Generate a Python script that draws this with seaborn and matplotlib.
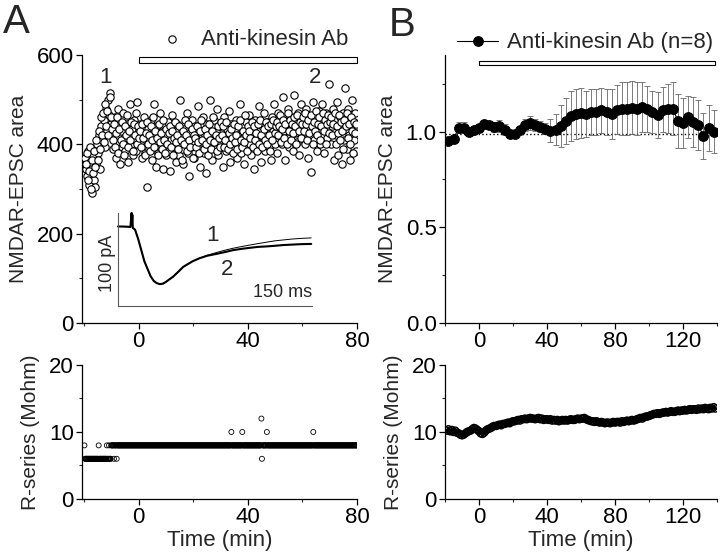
#!/usr/bin/python

import numpy as np
import seaborn as sns
import matplotlib
matplotlib.use('Agg')
import matplotlib.pyplot as plt
from matplotlib.patches import Rectangle
from matplotlib.ticker import MultipleLocator, FormatStrFormatter

####################################################################################################
# Data
####################################################################################################

# A, top: NMDAR-EPSC area of one cell, two interleaved sweeps every 0.4 min
area_a_time_1 = np.linspace(-19.6, 80.0, 250)
area_a_1 = [370, 345, 330, 385, 310, 360, 290, 375, 320, 305, 355, 400, 380, 420, 345, 440, 410, 455, 395, 480, 430, 500, 465, 515, 445,
            425, 390, 460, 370, 440, 480, 405, 355, 430, 395, 470, 415, 385, 445, 360, 420, 490, 400, 435, 375, 455, 410, 385, 495, 430,
            445, 400, 370, 420, 460, 380, 410, 305, 435, 390, 455, 365, 425, 490, 400, 350, 440, 380, 415, 470, 395, 345, 430, 405, 375,
            420, 450, 385, 340, 410, 465, 395, 430, 360, 445, 400, 375, 500, 420, 390, 355, 435, 410, 470, 380, 330, 425, 395, 455, 405,
            370, 440, 415, 485, 395, 350, 430, 405, 460, 380, 420, 335, 445, 400, 500, 425, 365, 410, 455, 390, 430, 480, 375, 415, 440,
            395, 350, 460, 420, 385, 435, 405, 475, 360, 445, 410, 390, 430, 455, 370, 420, 400, 490, 380, 440, 415, 355, 450, 395, 425,
            465, 400, 375, 435, 420, 345, 455, 410, 390, 485, 430, 360, 440, 405, 470, 385, 425, 450, 395, 415, 365, 460, 430, 490, 400,
            440, 380, 470, 420, 455, 400, 505, 430, 365, 445, 415, 480, 395, 460, 435, 385, 510, 425, 450, 405, 470, 375, 440, 490, 420,
            455, 400, 480, 435, 370, 460, 420, 338, 445, 495, 410, 465, 385, 430, 475, 400, 455, 490, 420, 380, 445, 470, 415, 535, 460,
            400, 440, 480, 365, 455, 420, 495, 375, 460, 430, 355, 470, 410, 525, 445, 390, 480, 420, 365, 500, 450, 410, 470, 385, 440]
area_a_time_2 = np.linspace(-19.4, 79.8, 249)
area_a_2 = [355, 380, 320, 340, 395, 300, 365, 335, 385, 350, 410, 365, 430, 390, 460, 420, 470, 405, 490, 440, 475, 420, 505, 460, 435,
            410, 445, 395, 425, 460, 380, 435, 410, 450, 400, 375, 440, 420, 465, 395, 430, 410, 450, 385, 445, 420, 470, 400, 440, 415,
            430, 395, 445, 415, 375, 425, 450, 400, 420, 385, 440, 410, 460, 395, 430, 415, 375, 445, 405, 425, 390, 455, 410, 380, 435,
            400, 425, 440, 395, 430, 375, 415, 450, 405, 420, 390, 440, 410, 365, 430, 400, 455, 420, 385, 445, 410, 395, 435, 370, 420,
            415, 395, 440, 405, 380, 430, 455, 410, 390, 435, 400, 420, 375, 445, 410, 390, 430, 460, 405, 420, 385, 440, 415, 395, 450,
            420, 440, 395, 410, 450, 390, 425, 400, 435, 415, 380, 445, 405, 420, 390, 440, 455, 410, 395, 430, 405, 465, 420, 385, 440,
            430, 415, 450, 395, 440, 410, 425, 385, 445, 400, 455, 420, 395, 435, 410, 450, 400, 440, 420, 385, 445, 410, 455, 425, 440,
            450, 420, 440, 465, 405, 435, 455, 415, 445, 400, 470, 430, 455, 410, 445, 425, 460, 440, 400, 465, 430, 450, 415, 445, 460,
            430, 470, 445, 410, 455, 425, 465, 440, 400, 450, 430, 475, 420, 445, 460, 410, 440, 470, 430, 455, 400, 445, 465, 425, 450,
            460, 420, 445, 470, 400, 440, 425, 465, 410, 450, 430, 390, 455, 440, 470, 415, 445, 400, 460, 430, 380, 450, 425, 445]

# A, bottom: series resistance, one sample every 0.2 min (-19.8 .. 80 min), run-length coded
rs_a_time = np.linspace(-19.8, 80.0, 500)
rs_a_levels = [8, 6, 8, 6, 8, 6, 8, 6, 8, 6, 8, 6, 8, 10, 8, 10, 8, 12, 6, 8, 10, 8, 10, 8]
rs_a_counts = [1, 25, 1, 14, 1, 3, 1, 3, 5, 1, 4, 1, 209, 1, 19, 1, 34, 1, 1, 8, 1, 84, 1, 80]

# A, inset: averaged EPSC traces (ms, pA)
trace_common_t = [0, 10, 16, 17, 17.5, 18, 18.5, 19, 22, 26, 30, 34, 38, 42, 46, 50, 54, 58, 62, 66, 71, 78, 84, 90, 96, 105]
trace_common_i = [-14.5, -14.7, -15, -5, 0, -10, -2, -16, -18, -28, -40, -52, -60, -68, -73, -75.5, -76.5, -76, -74, -71.5,
                  -68.5, -63, -58, -55, -52, -48.7]
trace_late_t = [115, 127, 138, 148, 160, 170, 180, 191, 202, 213, 225, 237, 249]
trace1_late_i = [-45.5, -42.5, -40, -38, -36, -34.5, -33, -31.5, -30, -29, -28, -27.3, -26.8]
trace2_late_i = [-46, -44, -42, -40, -38.5, -37.5, -36.5, -36, -35.3, -34.5, -34, -33.5, -33.3]

# B, top: normalised NMDAR-EPSC area, mean and s.e.m. every 3 min (-18 .. 138 min)
norm_time = np.arange(-18, 139, 3)
norm_mean = [0.95, 0.96, 1.02, 1.02, 1.00, 1.01,
             1.02, 1.04, 1.035, 1.025, 1.03, 1.01, 0.985, 0.985, 1.01, 1.035, 1.045, 1.035, 1.025, 1.015,
             1.005, 1.01, 1.03, 1.055, 1.08, 1.09, 1.095, 1.09, 1.10, 1.10, 1.11, 1.10, 1.09, 1.115, 1.12,
             1.12, 1.125, 1.12, 1.13, 1.12, 1.10, 1.085, 1.115, 1.12, 1.12, 1.055, 1.045, 1.075, 1.05, 1.035,
             0.975, 1.02, 1.00]
norm_sem = [0.015, 0.015, 0.03, 0.03, 0.015, 0.015,
            0.015, 0.02, 0.02, 0.025, 0.03, 0.03, 0.02, 0.02, 0.02, 0.03, 0.035, 0.03, 0.03, 0.03,
            0.06, 0.08, 0.11, 0.12, 0.13, 0.13, 0.13, 0.12, 0.12, 0.12, 0.12, 0.12, 0.13, 0.13, 0.14,
            0.14, 0.14, 0.14, 0.13, 0.12, 0.11, 0.12, 0.12, 0.13, 0.14, 0.14, 0.13, 0.11, 0.13, 0.13,
            0.12, 0.12, 0.11]

# B, bottom: mean series resistance, every 1 min (-19 .. 139 min)
rs_b_time = np.arange(-19, 140, 1)
rs_b = [10.2, 10.4, 10.1, 10.3, 10.0, 10.2, 9.9, 9.8, 9.6, 9.5,
        9.6, 9.8, 10.0, 10.1, 10.2, 10.4, 10.6, 10.5, 10.3, 10.1,
        9.8, 9.7, 9.9, 10.2, 10.4, 10.5, 10.6, 10.8, 10.9, 10.9,
        11.0, 11.1, 11.0, 11.2, 11.2, 11.3, 11.4, 11.3, 11.5, 11.6,
        11.6, 11.7, 11.8, 11.7, 11.9, 11.9, 12.0, 11.9, 12.0, 12.1,
        12.0, 12.0, 11.9, 12.0, 12.1, 11.9, 12.0, 11.8, 11.9, 11.9,
        11.8, 11.9, 11.7, 11.8, 11.7, 11.8, 11.6, 11.7, 11.8, 11.7,
        11.8, 11.7, 11.8, 11.9, 11.8, 11.8, 11.9, 12.0, 11.9, 12.0,
        12.0, 12.1, 11.9, 11.8, 11.7, 11.6, 11.6, 11.5, 11.6, 11.5,
        11.4, 11.5, 11.4, 11.3, 11.4, 11.4, 11.3, 11.4, 11.5, 11.4,
        11.5, 11.5, 11.4, 11.6, 11.5, 11.6, 11.7, 11.6, 11.7, 11.8,
        11.7, 11.8, 11.9, 12.0, 12.1, 12.0, 12.2, 12.3, 12.3, 12.4,
        12.5, 12.6, 12.7, 12.7, 12.8, 12.7, 12.8, 12.9, 12.9, 13.0,
        12.9, 13.0, 13.1, 13.0, 13.0, 13.1, 13.2, 13.1, 13.2, 13.2,
        13.3, 13.2, 13.3, 13.4, 13.3, 13.4, 13.4, 13.3, 13.5, 13.4,
        13.5, 13.4, 13.6, 13.5, 13.4, 13.6, 13.5, 13.7, 13.5]

LEGEND_TEXT = 'Anti-kinesin Ab'
FONT_SIZE = 16


####################################################################################################
# @style_axis
####################################################################################################
def style_axis(ax, xlim, ylim, xmajor, xminor, ymajor, yminor, yfmt=None):

    ax.set_xlim(*xlim)
    ax.set_ylim(*ylim)
    ax.xaxis.set_major_locator(MultipleLocator(xmajor))
    ax.xaxis.set_minor_locator(MultipleLocator(xminor))
    ax.yaxis.set_major_locator(MultipleLocator(ymajor))
    ax.yaxis.set_minor_locator(MultipleLocator(yminor))
    if yfmt is not None:
        ax.yaxis.set_major_formatter(FormatStrFormatter(yfmt))
    sns.despine(ax=ax)
    for side in ['left', 'bottom']:
        ax.spines[side].set_linewidth(0.9)
        ax.spines[side].set_color('black')
    ax.tick_params(which='both', bottom=True, left=True, top=False, right=False)
    ax.tick_params(which='major', direction='out', length=4, width=0.9, pad=2,
                   labelsize=FONT_SIZE, colors='black')
    ax.tick_params(which='minor', direction='out', length=2.5, width=0.8)
    ax.set_xlabel('')
    ax.set_ylabel('')


####################################################################################################
# @ Main
####################################################################################################
if __name__ == "__main__":

    sns.set_theme(style='ticks')
    plt.rcParams['font.family'] = ['Liberation Sans', 'DejaVu Sans']
    plt.rcParams['axes.grid'] = False

    fig = plt.figure(figsize=(7.2, 5.54), dpi=100)

    ax_a = fig.add_axes([0.1139, 0.4170, 0.3819, 0.4838])
    ax_a_rs = fig.add_axes([0.1139, 0.0993, 0.3819, 0.2419])
    ax_b = fig.add_axes([0.6181, 0.4170, 0.3778, 0.4838])
    ax_b_rs = fig.add_axes([0.6181, 0.0993, 0.3778, 0.2419])
    ax_in = fig.add_axes([0.1639, 0.4477, 0.2694, 0.1679])

    # ---------------- Panel A, EPSC area ----------------
    sns.scatterplot(x=area_a_time_1, y=area_a_1, ax=ax_a, s=28, facecolor='white',
                    edgecolor='black', linewidth=0.8, label=LEGEND_TEXT, zorder=3)
    sns.scatterplot(x=area_a_time_2, y=area_a_2, ax=ax_a, s=28, facecolor='white',
                    edgecolor='black', linewidth=0.8, zorder=3)
    style_axis(ax_a, (-20.7, 80), (0, 600), 40, 20, 200, 100)
    ax_a.set_ylabel('NMDAR-EPSC area', fontsize=15, labelpad=6)
    ax_a.add_patch(Rectangle((0, 581), 80, 14, facecolor='white', edgecolor='black',
                             linewidth=0.8, clip_on=False, zorder=4))
    ax_a.text(-12, 550, '1', fontsize=FONT_SIZE, ha='center', va='center', zorder=5)
    ax_a.text(64.7, 549, '2', fontsize=FONT_SIZE, ha='center', va='center', zorder=5)
    ax_a.legend(loc='center left', bbox_to_anchor=(0.2236, 0.9296), bbox_transform=fig.transFigure,
                frameon=False, borderpad=0, borderaxespad=0, handlelength=1.0, handletextpad=0.8,
                fontsize=FONT_SIZE)

    # ---------------- Panel A, inset traces ----------------
    sns.lineplot(x=trace_common_t + trace_late_t, y=trace_common_i + trace1_late_i, ax=ax_in,
                 color='black', linewidth=0.7, sort=False, estimator=None)
    sns.lineplot(x=trace_common_t + trace_late_t, y=trace_common_i + trace2_late_i, ax=ax_in,
                 color='black', linewidth=1.5, sort=False, estimator=None)
    ax_in.set_xlim(0, 250)
    ax_in.set_ylim(-100, 0)
    ax_in.patch.set_alpha(0)
    sns.despine(ax=ax_in)
    for side in ['left', 'bottom']:
        ax_in.spines[side].set_color('0.35')
        ax_in.spines[side].set_linewidth(0.8)
    ax_in.set_xticks([])
    ax_in.set_yticks([])
    for line in ax_in.lines:
        line.set_clip_on(False)
    ax_in.text(122, -24, '1', fontsize=FONT_SIZE, ha='center', va='center')
    ax_in.text(140, -61, '2', fontsize=FONT_SIZE, ha='center', va='center')
    ax_in.text(-13, -54, '100 pA', fontsize=13, rotation=90, ha='center', va='center')
    ax_in.text(212, -86, '150 ms', fontsize=13, ha='center', va='center')

    # ---------------- Panel A, R-series ----------------
    sns.scatterplot(x=rs_a_time, y=np.repeat(rs_a_levels, rs_a_counts), ax=ax_a_rs, s=13,
                    facecolor='none', edgecolor='black', linewidth=0.6)
    style_axis(ax_a_rs, (-20.7, 80), (0, 20), 40, 20, 10, 5)
    ax_a_rs.set_ylabel('R-series (Mohm)', fontsize=15, labelpad=6)
    ax_a_rs.set_xlabel('Time (min)', fontsize=FONT_SIZE, labelpad=1)

    # ---------------- Panel B, normalised area ----------------
    ax_b.axhline(0.985, color='black', linestyle=':', linewidth=1.0, zorder=1)
    ax_b.errorbar(norm_time, norm_mean, yerr=norm_sem, fmt='none', ecolor='0.4',
                  elinewidth=0.6, capsize=2, capthick=0.6, zorder=2)
    sns.lineplot(x=norm_time, y=norm_mean, ax=ax_b, color='black', linewidth=0.8, marker='o',
                 markersize=7, markeredgecolor='black', label=LEGEND_TEXT + ' (n=8)', zorder=3)
    style_axis(ax_b, (-20, 140), (0, 1.4), 40, 20, 0.5, 0.25, yfmt='%.1f')
    ax_b.set_ylabel('NMDAR-EPSC area', fontsize=15, labelpad=6)
    ax_b.add_patch(Rectangle((0, 1.347), 139, 0.024, facecolor='white', edgecolor='black',
                             linewidth=0.8, clip_on=False, zorder=4))
    ax_b.legend(loc='center left', bbox_to_anchor=(0.6347, 0.9224), bbox_transform=fig.transFigure,
                frameon=False, borderpad=0, borderaxespad=0, handlelength=1.86, handletextpad=0.4,
                fontsize=FONT_SIZE)

    # ---------------- Panel B, R-series ----------------
    sns.lineplot(x=rs_b_time, y=rs_b, ax=ax_b_rs, color='black', linewidth=2.5)
    sns.scatterplot(x=rs_b_time, y=rs_b, ax=ax_b_rs, s=26, facecolor='none',
                    edgecolor='black', linewidth=1.0)
    style_axis(ax_b_rs, (-20, 140), (0, 20), 40, 20, 10, 5)
    ax_b_rs.set_ylabel('R-series (Mohm)', fontsize=15, labelpad=6)
    ax_b_rs.set_xlabel('Time (min)', fontsize=FONT_SIZE, labelpad=1)

    # Panel letters
    fig.text(0.004, 0.995, 'A', fontsize=29, ha='left', va='top')
    fig.text(0.540, 0.99, 'B', fontsize=29, ha='left', va='top')

    fig.savefig('out.png', dpi=100)
    plt.close(fig)
